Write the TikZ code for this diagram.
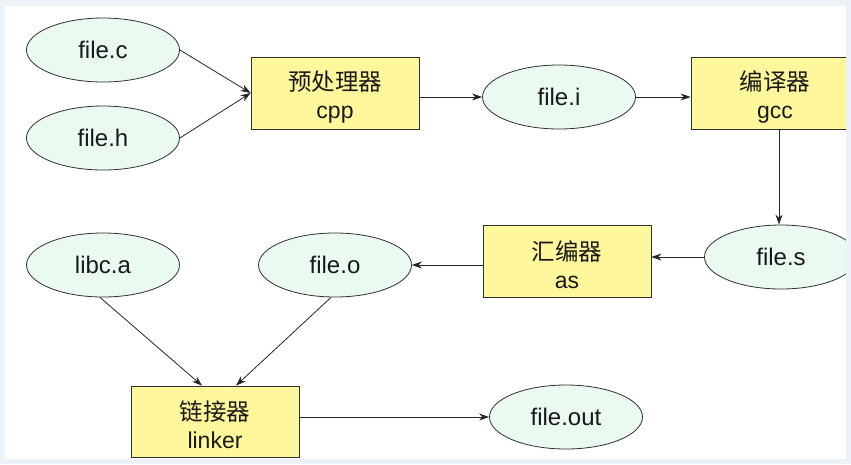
\documentclass[tikz,border=0pt]{standalone}
\usepackage{fontspec}
\setmainfont{Liberation Sans}
\newfontfamily\cjk[Scale=1.02]{Noto Sans CJK SC}
\usetikzlibrary{shapes.geometric,arrows.meta,calc}
\definecolor{filefill}{HTML}{EAFAF0}
\definecolor{toolfill}{HTML}{FFF79C}
\definecolor{edge}{HTML}{303030}
\definecolor{framecol}{HTML}{EDF1F8}
% two-line tool label, nudged slightly down inside its box
\newcommand{\toollabel}[2]{\rule{0pt}{27pt}{\cjk #1}\\#2}
\begin{document}
\begin{tikzpicture}[x=1pt,y=-1pt,
  filenode/.style={ellipse,draw=edge,line width=0.8pt,fill=filefill,
    minimum width=153pt,minimum height=64pt,inner sep=0pt,
    font=\fontsize{24}{28}\selectfont,text=black!90},
  toolnode/.style={rectangle,draw=edge,line width=0.8pt,fill=toolfill,
    minimum width=168pt,minimum height=72pt,inner sep=0pt,align=center,
    font=\fontsize{23}{28}\selectfont,text=black!90},
  flow/.style={draw=black!85,line width=0.8pt,-{Stealth[length=10pt,width=7pt]}}]
\useasboundingbox (0,0) rectangle (851,464);
\fill[white] (0,0) rectangle (851,464);

% source files and preprocessor
\node[filenode] (filec) at (103,50) {file.c};
\node[filenode] (fileh) at (103,138) {file.h};
\node[toolnode] (cpp) at (335,93) {\toollabel{预处理器}{cpp}};
\node[filenode] (filei) at (559,97) {file.i};
\node[toolnode] (gcc) at (775,93) {\toollabel{编译器}{gcc}};

% assembler stage
\node[filenode] (files) at (781,257) {file.s};
\node[toolnode] (as) at (567,261) {\toollabel{汇编器}{as}};
\node[filenode] (fileo) at (335,265) {file.o};
\node[filenode] (libca) at (103,265) {libc.a};

% linker stage
\node[toolnode, minimum height=71pt] (linker) at (215,421.5) {\toollabel{链接器}{linker}};
\node[filenode] (fileout) at (566,417) {file.out};

% connectors
\draw[flow] (filec.east) -- (cpp.west);
\draw[flow] (fileh.east) -- (cpp.west);
\draw[flow] (cpp.east |- filei.west) -- (filei.west);
\draw[flow] (filei.east) -- (gcc.west |- filei.east);
\draw[flow] ($(gcc.south)+(4,0)$) -- ($(files.north)+(-2,0)$);
\draw[flow] (files.west) -- (as.east |- files.west);
\draw[flow] (as.west |- fileo.east) -- (fileo.east);
\draw[flow] ($(libca.south)+(-3,0)$) -- ($(linker.north)+(-13,0)$);
\draw[flow] ($(fileo.south)+(-4,0)$) -- ($(linker.north)+(21,0)$);
\draw[flow] (linker.east |- fileout.west) -- (fileout.west);

% outer frame
\fill[framecol, even odd rule] (0,0) rectangle (851,464) (5,6) rectangle (846,459);
\end{tikzpicture}
\end{document}
